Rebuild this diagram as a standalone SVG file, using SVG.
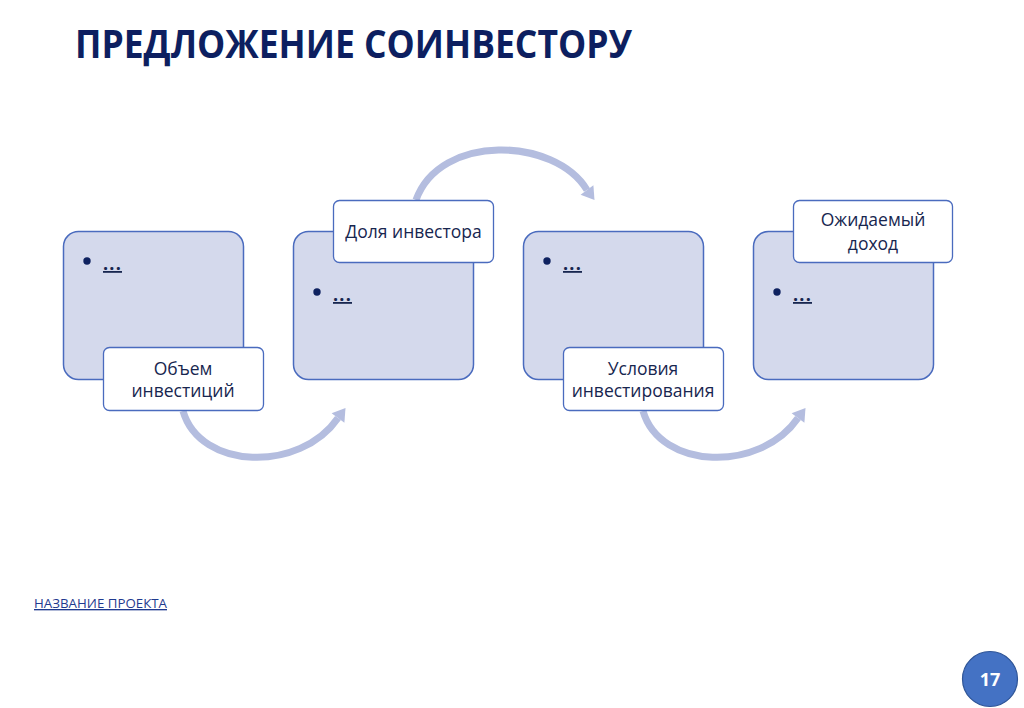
<svg xmlns="http://www.w3.org/2000/svg" width="1024" height="708" viewBox="0 0 1024 708">
<style>
.box{fill:#D4D9EC;stroke:#4A6BBE;stroke-width:1.5}
.lbl{fill:#FFFFFF;stroke:#4A6BBE;stroke-width:1.3}
.lt{font-family:"Open Sans","Liberation Sans",sans-serif;font-size:17.5px;fill:#17264F;text-anchor:middle}
.dots{font-family:"Open Sans","Liberation Sans",sans-serif;font-size:18px;font-weight:bold;letter-spacing:1.2px;fill:#17264F;text-decoration:underline}
.arc{fill:none;stroke:#B4BDDF;stroke-width:7}
.head{fill:#B4BDDF}
.bul{fill:#0F2260}
</style>
<rect width="1024" height="708" fill="#FFFFFF"/>
<text x="75" y="58" font-family="'Open Sans','Liberation Sans',sans-serif" font-size="40" font-weight="bold" fill="#0D1F60" textLength="557" lengthAdjust="spacingAndGlyphs">ПРЕДЛОЖЕНИЕ СОИНВЕСТОРУ</text>
<g id="connectors">
<path class="arc" d="M183,411 C200,470 300,473 338,418"/>
<polygon class="head" points="345.5,408 331.6,413.2 344.4,422.8"/>
<path class="arc" d="M416,200 C440,133 555,137 587,190"/>
<polygon class="head" points="594.5,200 580.6,194.8 593.4,185.2"/>
<path class="arc" d="M643,411 C660,470 760,473 798,418"/>
<polygon class="head" points="805.5,408 791.6,413.2 804.4,422.8"/>
</g>
<g id="node1">
<rect class="box" x="63.5" y="231.5" width="180" height="148" rx="15"/>
<circle class="bul" cx="87" cy="261" r="3.7"/>
<text class="dots" x="103" y="270">...</text>
<rect class="lbl" x="103.5" y="347.5" width="160" height="63" rx="6"/>
<text class="lt" x="183" y="375">Объем</text>
<text class="lt" x="183" y="397">инвестиций</text>
</g>
<g id="node2">
<rect class="box" x="293.5" y="231.5" width="180" height="148" rx="15"/>
<circle class="bul" cx="317" cy="292" r="3.7"/>
<text class="dots" x="333" y="301">...</text>
<rect class="lbl" x="333.5" y="200.5" width="160" height="62" rx="6"/>
<text class="lt" x="413.5" y="238">Доля инвестора</text>
</g>
<g id="node3">
<rect class="box" x="523.5" y="231.5" width="180" height="148" rx="15"/>
<circle class="bul" cx="547" cy="261" r="3.7"/>
<text class="dots" x="563" y="270">...</text>
<rect class="lbl" x="563.5" y="347.5" width="160" height="63" rx="6"/>
<text class="lt" x="643" y="375">Условия</text>
<text class="lt" x="643" y="397">инвестирования</text>
</g>
<g id="node4">
<rect class="box" x="753.5" y="231.5" width="180" height="148" rx="15"/>
<circle class="bul" cx="777" cy="292" r="3.7"/>
<text class="dots" x="793" y="301">...</text>
<rect class="lbl" x="793.5" y="200.5" width="159" height="62" rx="6"/>
<text class="lt" x="873" y="226">Ожидаемый</text>
<text class="lt" x="873" y="250">доход</text>
</g>
<text x="34" y="608" font-family="'Open Sans','Liberation Sans',sans-serif" font-size="13.5" fill="#1F3A8F" text-decoration="underline" textLength="133" lengthAdjust="spacingAndGlyphs">НАЗВАНИЕ ПРОЕКТА</text>
<g id="page">
<circle cx="990" cy="679" r="27.5" fill="#4472C4" stroke="#2F5597" stroke-width="1.2"/>
<text x="990" y="686" font-family="'Open Sans','Liberation Sans',sans-serif" font-size="18" font-weight="bold" fill="#FFFFFF" text-anchor="middle">17</text>
</g>
</svg>
